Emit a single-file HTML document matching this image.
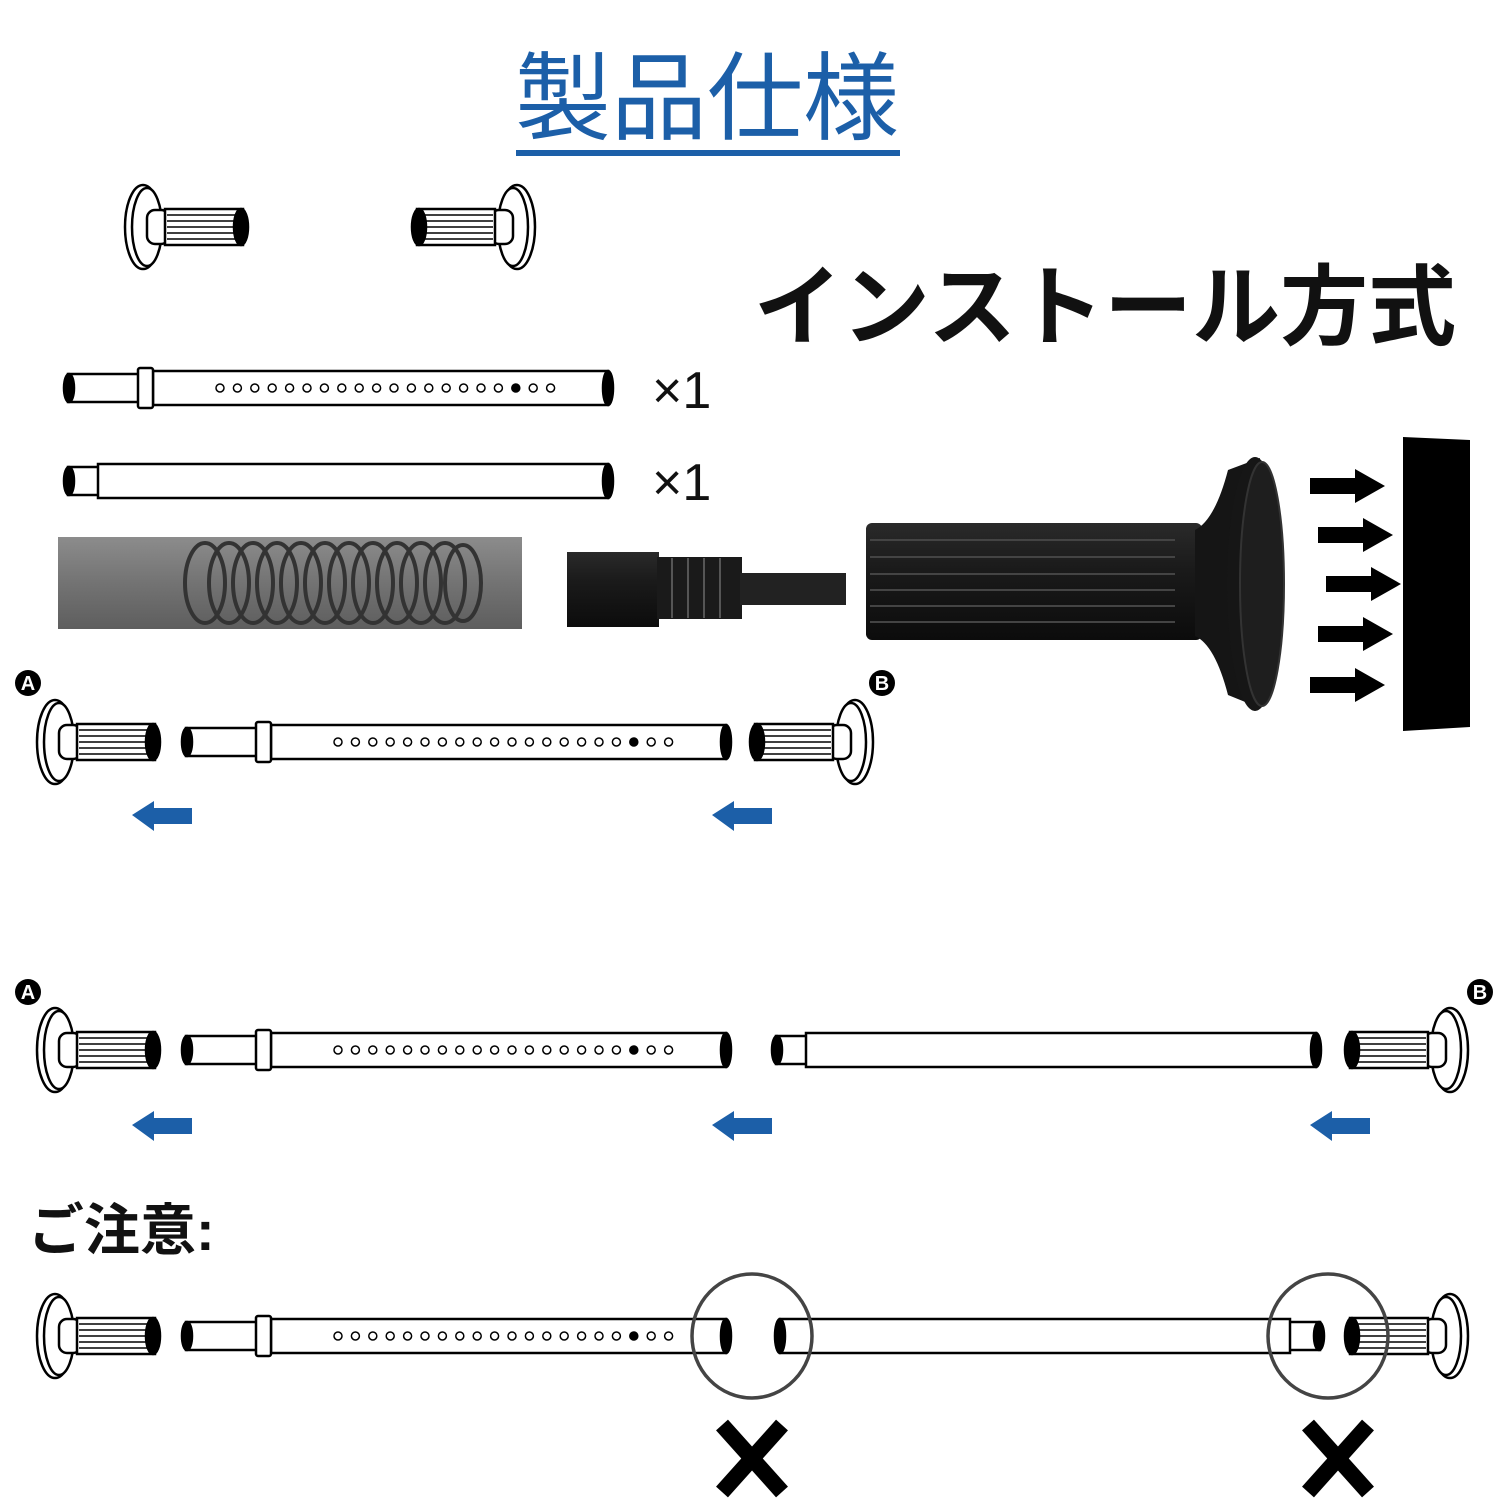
<!DOCTYPE html>
<html><head><meta charset="utf-8">
<style>
html,body{margin:0;padding:0;background:#fff;}
svg{display:block;}
text{font-family:"Liberation Sans","Noto Sans CJK JP",sans-serif;}
</style></head>
<body>
<svg width="1500" height="1500" viewBox="0 0 1500 1500" xmlns="http://www.w3.org/2000/svg">
<defs>
  <g id="cap" stroke="#000" stroke-width="2.5" fill="#fff">
    <ellipse cx="18" cy="0" rx="18" ry="42"/>
    <ellipse cx="22" cy="0" rx="15" ry="39"/>
    <rect x="22" y="-17" width="22" height="34" rx="8"/>
    <rect x="40" y="-18" width="78" height="36"/>
    <g stroke-width="1.5">
      <line x1="42" y1="-12" x2="116" y2="-12"/>
      <line x1="42" y1="-6" x2="116" y2="-6"/>
      <line x1="42" y1="0" x2="116" y2="0"/>
      <line x1="42" y1="6" x2="116" y2="6"/>
      <line x1="42" y1="12" x2="116" y2="12"/>
    </g>
    <ellipse cx="116" cy="0" rx="7" ry="18" fill="#000"/>
  </g>
  <g id="holes" fill="#fff" stroke="#000" stroke-width="1.5">
    <circle cx="155" cy="0" r="4"/><circle cx="172.4" cy="0" r="4"/><circle cx="189.8" cy="0" r="4"/><circle cx="207.2" cy="0" r="4"/><circle cx="224.6" cy="0" r="4"/><circle cx="242" cy="0" r="4"/><circle cx="259.4" cy="0" r="4"/><circle cx="276.8" cy="0" r="4"/><circle cx="294.2" cy="0" r="4"/><circle cx="311.6" cy="0" r="4"/><circle cx="329" cy="0" r="4"/><circle cx="346.4" cy="0" r="4"/><circle cx="363.8" cy="0" r="4"/><circle cx="381.2" cy="0" r="4"/><circle cx="398.6" cy="0" r="4"/><circle cx="416" cy="0" r="4"/><circle cx="433.4" cy="0" r="4"/><circle cx="450.8" cy="0" r="4" fill="#000"/><circle cx="468.2" cy="0" r="4"/><circle cx="485.6" cy="0" r="4"/>
  </g>
  <g id="tube" stroke="#000" stroke-width="2.5" fill="#fff">
    <rect x="3" y="-14" width="72" height="28"/>
    <ellipse cx="4" cy="0" rx="5" ry="14" fill="#000"/>
    <rect x="88" y="-17" width="455" height="34"/>
    <rect x="73" y="-20" width="15" height="40" rx="2"/>
    <ellipse cx="543" cy="0" rx="5" ry="17" fill="#000"/>
    <use href="#holes"/>
  </g>
  <g id="stube" stroke="#000" stroke-width="2.5" fill="#fff">
    <rect x="3" y="-14" width="32" height="28"/>
    <ellipse cx="4" cy="0" rx="5" ry="14" fill="#000"/>
    <rect x="33" y="-17" width="510" height="34"/>
    <ellipse cx="543" cy="0" rx="5" ry="17" fill="#000"/>
  </g>
  <path id="barrow" d="M0 0 L22 -14 L22 -7 L60 -7 L60 9 L22 9 L22 16 Z" fill="#1c5fa8"/>
  <path id="karrow" d="M0 -8 L45 -8 L45 -17 L75 0 L45 17 L45 8 L0 8 Z" fill="#000"/>
  <linearGradient id="gt" x1="0" y1="0" x2="0" y2="1">
    <stop offset="0" stop-color="#8c8c8c"/><stop offset="0.5" stop-color="#737373"/><stop offset="1" stop-color="#5e5e5e"/>
  </linearGradient>
  <linearGradient id="bk" x1="0" y1="0" x2="0" y2="1">
    <stop offset="0" stop-color="#2a2a2a"/><stop offset="0.4" stop-color="#1a1a1a"/><stop offset="1" stop-color="#0c0c0c"/>
  </linearGradient>
</defs>

<text x="707" y="132" font-size="96" fill="#1c5fa8" text-anchor="middle">製品仕様</text>
<rect x="516" y="150" width="384" height="6" fill="#1c5fa8"/>

<text x="1105" y="338" font-size="88" font-weight="bold" fill="#111" text-anchor="middle">インストール方式</text>

<use href="#cap" transform="translate(125,227)"/>
<use href="#cap" transform="translate(535,227) scale(-1,1)"/>

<use href="#tube" transform="translate(65,388)"/>
<text x="652" y="408" font-size="52" fill="#111">×1</text>
<use href="#stube" transform="translate(65,481)"/>
<text x="652" y="500" font-size="52" fill="#111">×1</text>

<rect x="58" y="537" width="464" height="92" fill="url(#gt)"/>
<g fill="none" stroke="#333" stroke-width="4">
  <ellipse cx="205" cy="583" rx="20" ry="40"/><ellipse cx="229" cy="583" rx="20" ry="40"/><ellipse cx="253" cy="583" rx="20" ry="40"/><ellipse cx="277" cy="583" rx="20" ry="40"/><ellipse cx="301" cy="583" rx="20" ry="40"/><ellipse cx="325" cy="583" rx="20" ry="40"/><ellipse cx="349" cy="583" rx="20" ry="40"/><ellipse cx="373" cy="583" rx="20" ry="40"/><ellipse cx="397" cy="583" rx="20" ry="40"/><ellipse cx="421" cy="583" rx="20" ry="40"/><ellipse cx="445" cy="583" rx="20" ry="40"/><ellipse cx="463" cy="583" rx="18" ry="38"/>
</g>
<rect x="567" y="552" width="92" height="75" fill="url(#bk)"/>
<rect x="657" y="557" width="85" height="62" fill="#1a1a1a"/>
<g stroke="#555" stroke-width="2"><line x1="672" y1="558" x2="672" y2="618"/><line x1="688" y1="558" x2="688" y2="618"/><line x1="704" y1="558" x2="704" y2="618"/><line x1="720" y1="558" x2="720" y2="618"/></g>
<rect x="740" y="573" width="106" height="32" fill="#222"/>

<rect x="866" y="523" width="336" height="117" rx="6" fill="url(#bk)"/>
<g stroke="#444" stroke-width="2"><line x1="870" y1="540" x2="1175" y2="540"/><line x1="870" y1="557" x2="1175" y2="557"/><line x1="870" y1="574" x2="1175" y2="574"/><line x1="870" y1="590" x2="1175" y2="590"/><line x1="870" y1="606" x2="1175" y2="606"/><line x1="870" y1="622" x2="1175" y2="622"/></g>
<path d="M1195 530 Q1215 520 1228 470 L1260 458 L1260 708 L1228 695 Q1215 645 1195 636 Z" fill="#151515"/>
<ellipse cx="1255" cy="584" rx="28" ry="127" fill="#161616"/>
<ellipse cx="1262" cy="584" rx="22" ry="122" fill="#1e1e1e" stroke="#333" stroke-width="2"/>

<use href="#karrow" transform="translate(1310,486)"/>
<use href="#karrow" transform="translate(1318,535)"/>
<use href="#karrow" transform="translate(1326,584)"/>
<use href="#karrow" transform="translate(1318,634)"/>
<use href="#karrow" transform="translate(1310,685)"/>
<path d="M1403 437 L1470 440 L1470 727 L1403 731 Z" fill="#000"/>

<g font-size="20" font-weight="bold" fill="#fff" text-anchor="middle">
<circle cx="28" cy="683" r="13" fill="#000"/><text x="28" y="690">A</text>
<circle cx="882" cy="683" r="13" fill="#000"/><text x="882" y="690">B</text>
<circle cx="28" cy="992" r="13" fill="#000"/><text x="28" y="999">A</text>
<circle cx="1480" cy="992" r="13" fill="#000"/><text x="1480" y="999">B</text>
</g>

<use href="#cap" transform="translate(37,742)"/>
<use href="#tube" transform="translate(183,742)"/>
<use href="#cap" transform="translate(873,742) scale(-1,1)"/>
<use href="#barrow" transform="translate(132,815)"/>
<use href="#barrow" transform="translate(712,815)"/>

<use href="#cap" transform="translate(37,1050)"/>
<use href="#tube" transform="translate(183,1050)"/>
<use href="#stube" transform="translate(773,1050)"/>
<use href="#cap" transform="translate(1468,1050) scale(-1,1)"/>
<use href="#barrow" transform="translate(132,1125)"/>
<use href="#barrow" transform="translate(712,1125)"/>
<use href="#barrow" transform="translate(1310,1125)"/>

<text x="28" y="1250" font-size="56" font-weight="bold" fill="#111">ご注意:</text>

<use href="#cap" transform="translate(37,1336)"/>
<use href="#tube" transform="translate(183,1336)"/>
<use href="#stube" transform="translate(1323,1336) scale(-1,1)"/>
<use href="#cap" transform="translate(1468,1336) scale(-1,1)"/>
<ellipse cx="752" cy="1336" rx="60" ry="62" fill="none" stroke="#444" stroke-width="3.5"/>
<ellipse cx="1328" cy="1336" rx="60" ry="62" fill="none" stroke="#444" stroke-width="3.5"/>
<g stroke="#000" stroke-width="16">
<line x1="722" y1="1425" x2="782" y2="1492"/><line x1="782" y1="1425" x2="722" y2="1492"/>
<line x1="1308" y1="1425" x2="1368" y2="1492"/><line x1="1368" y1="1425" x2="1308" y2="1492"/>
</g>
</svg>
</body></html>
